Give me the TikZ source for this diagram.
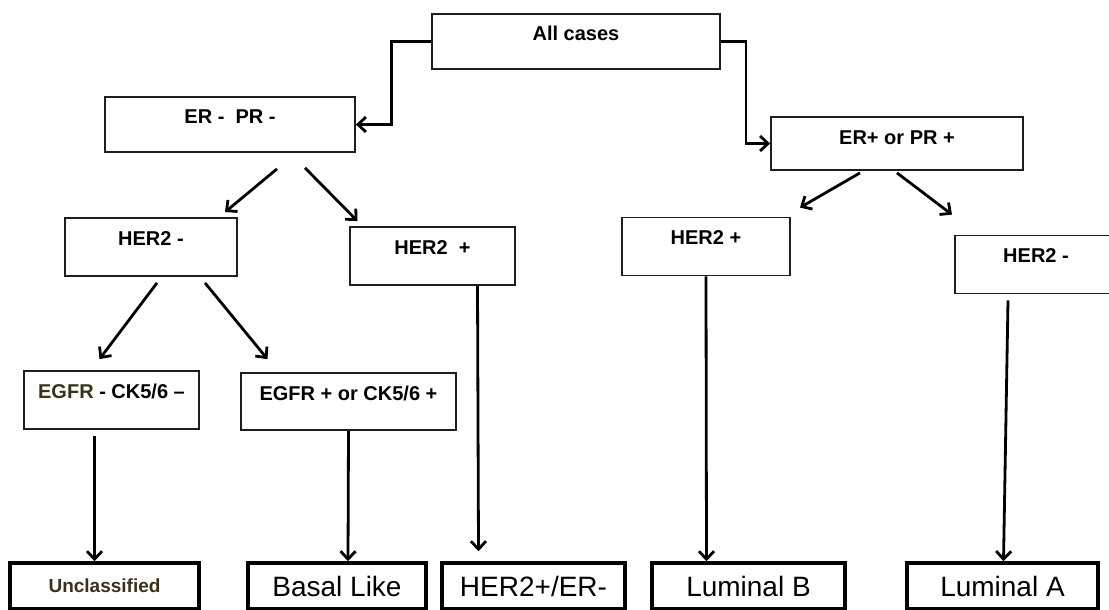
\documentclass[tikz,border=0pt]{standalone}
\usepackage{fontspec}
\setmainfont{Liberation Sans}
\definecolor{BoxInk}{HTML}{1E1E1E}
\definecolor{OliveInk}{HTML}{3A3118}
\usetikzlibrary{arrows.meta, positioning}

\begin{document}
\begin{tikzpicture}[
                x=1pt, y=-1pt,
                cond/.style={draw=BoxInk, line width=1.8pt, font=\fontsize{20}{22}\selectfont\bfseries, inner xsep=0pt, inner ysep=0pt, text height=27pt, text depth=28pt},
                condtall/.style={cond, text depth=31pt},
                leaf/.style={draw=black, line width=3.5pt, font=\fontsize{28}{30}\selectfont, minimum height=46pt, inner sep=0pt},
                arr/.style={-{Straight Barb[length=8pt, width=15pt, line width=2.8pt]}, line width=2.8pt, black}
            ]
                \useasboundingbox (0, 0) rectangle (1109, 610);

                \node[cond, minimum width=288pt] (allc) at (576, 41.5) {All cases};
                \node[cond, minimum width=250pt] (erneg) at (230, 124.5) {ER -\ \ PR -};
                \node[cond, minimum width=252pt, text depth=26pt] (erpos) at (897, 143.5) {ER+ or PR +};

                \node[condtall, minimum width=172pt] (herneg) at (151, 247) {HER2 -};
                \node[condtall, minimum width=165pt] (herpos) at (432.5, 256) {HER2\ \ +};
                \node[condtall, minimum width=168pt] (herposr) at (706, 246.5) {HER2 +};
                \node[condtall, minimum width=162pt] (hernegr) at (1036, 264.5) {HER2 -};

                \node[condtall, minimum width=175pt] (egfrneg) at (111.5, 400) {\textcolor{OliveInk}{EGFR} - CK5/6 --};
                \node[condtall, minimum width=215pt, text depth=30pt] (egfrpos) at (348.5, 401.5) {EGFR + or CK5/6 +};

                \node[leaf, minimum width=189pt, font=\fontsize{19}{22}\selectfont\bfseries, text=OliveInk] (uncl) at (104.5, 586) {Unclassified};
                \node[leaf, minimum width=178pt] (basal) at (337, 586) {Basal Like};
                \node[leaf, minimum width=183pt] (hertwo) at (533.5, 586) {HER2+/ER-};
                \node[leaf, minimum width=193pt] (lumb) at (748.5, 586) {Luminal B};
                \node[leaf, minimum width=191pt] (luma) at (1002.5, 586) {Luminal A};

                \draw[arr] (allc.west) -- ++(-40, 0) |- (erneg.east);
                \draw[arr] (allc.east) -- ++(25, 0) |- (erpos.west);

                \draw[arr] ([xshift=47pt, yshift=-16pt]erneg.south) -- ([xshift=74pt, yshift=5pt]herneg.north);
                \draw[arr] ([xshift=75pt, yshift=-15pt]erneg.south) -- ([xshift=-75pt, yshift=5pt]herpos.north);
                \draw[arr] ([xshift=-37pt, yshift=-2pt]erpos.south) -- ([xshift=94pt, yshift=9pt]herposr.north);
                \draw[arr] ([xshift=0pt, yshift=-2pt]erpos.south) -- ([xshift=-84pt, yshift=20pt]hernegr.north);

                \draw[arr] ([xshift=6pt, yshift=-6pt]herneg.south) -- ([xshift=-12pt, yshift=11pt]egfrneg.north);
                \draw[arr] ([xshift=54pt, yshift=-6pt]herneg.south) -- ([xshift=-81pt, yshift=13pt]egfrpos.north);

                \draw[arr] ([xshift=-17pt, yshift=-6pt]egfrneg.south) -- ([xshift=-10pt]uncl.north);
                \draw[arr] (egfrpos.south) -- ([xshift=11pt]basal.north);
                \draw[arr] ([xshift=45pt]herpos.south) -- ([xshift=-55pt, yshift=10pt]hertwo.north);
                \draw[arr] (herposr.south) -- ([xshift=-42pt]lumb.north);
                \draw[arr] ([xshift=-28pt, yshift=-6pt]hernegr.south) -- ([xshift=1pt]luma.north);
            \end{tikzpicture}
\end{document}
